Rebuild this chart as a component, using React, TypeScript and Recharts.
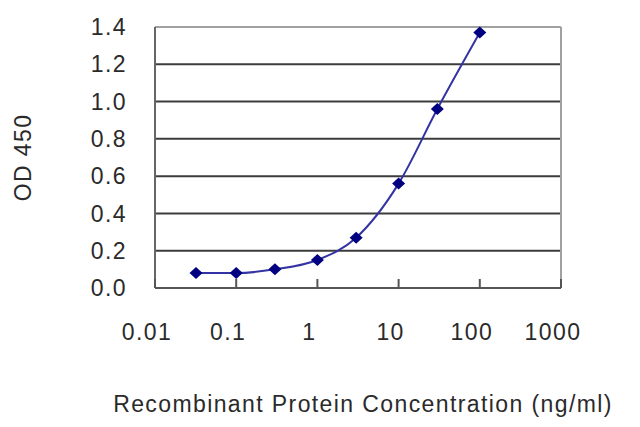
import { LineChart, Line, XAxis, YAxis, ReferenceLine } from "recharts";

// Concentration (ng/ml) and measured OD 450
const concentrations = [0.032, 0.1, 0.3, 1, 3, 10, 30, 100];
const odValues = [0.08, 0.08, 0.1, 0.15, 0.27, 0.56, 0.96, 1.37];

const xTicks = [0.01, 0.1, 1, 10, 100, 1000];
const yTicks = [0, 0.2, 0.4, 0.6, 0.8, 1.0, 1.2, 1.4];
const gridValues = [0.2, 0.4, 0.6, 0.8, 1.0, 1.2];

const data = concentrations.map((conc, i) => ({ conc, od: odValues[i] }));

const FONT = '"Liberation Sans", Arial, sans-serif';
const TEXT = "#2a2a2a";

function XTick(props: any) {
  const { x, y, payload } = props;
  return (
    <g>
      <line x1={x} y1={y} x2={x} y2={y - 9} stroke="#555" strokeWidth={2} />
      <text x={x - 8} y={y + 52} textAnchor="middle" fill={TEXT} fontSize={23}>
        {payload.value}
      </text>
    </g>
  );
}

function Diamond(props: any) {
  const { cx, cy, index } = props;
  if (cx == null || cy == null) return null;
  return (
    <polygon
      key={`d-${index}`}
      points={`${cx},${cy - 6} ${cx + 6.5},${cy} ${cx},${cy + 6} ${cx - 6.5},${cy}`}
      fill="#000080"
    />
  );
}

export default function App() {
  return (
    <div
      style={{
        position: "absolute",
        left: 0,
        top: 0,
        width: 640,
        height: 427,
        background: "#fff",
        fontFamily: FONT,
        letterSpacing: "1.4px",
      }}
    >
      <LineChart
        width={640}
        height={427}
        data={data}
        margin={{ top: 27, right: 79, bottom: 0, left: 0 }}
      >
        <XAxis
          dataKey="conc"
          type="number"
          scale="log"
          domain={[0.01, 1000]}
          ticks={xTicks}
          allowDataOverflow
          height={139}
          tickSize={0}
          tickMargin={0}
          tickLine={false}
          axisLine={{ stroke: "#555", strokeWidth: 2 }}
          tick={<XTick />}
          interval={0}
          label={{
            position: "insideBottom",
            content: (p: any) => {
              const vb = p.viewBox;
              return (
                <text
                  x={vb.x + vb.width / 2 + 5}
                  y={vb.y + vb.height - 15}
                  textAnchor="middle"
                  fill={TEXT}
                  fontSize={23}
                >
                  Recombinant Protein Concentration (ng/ml)
                </text>
              );
            },
          }}
        />
        <YAxis
          type="number"
          domain={[0, 1.4]}
          ticks={yTicks}
          width={155}
          tickSize={0}
          tickMargin={28}
          tickLine={false}
          interval={0}
          axisLine={{ stroke: "#666", strokeWidth: 2 }}
          tick={{ fill: TEXT, fontSize: 23 }}
          tickFormatter={(v: number) => v.toFixed(1)}
          label={{
            position: "insideLeft",
            content: (p: any) => {
              const vb = p.viewBox;
              const cx = vb.x + 23;
              const cy = vb.y + vb.height / 2;
              return (
                <text
                  x={cx}
                  y={cy}
                  transform={`rotate(-90, ${cx}, ${cy})`}
                  textAnchor="middle"
                  dominantBaseline="central"
                  fill={TEXT}
                  fontSize={23}
                >
                  OD 450
                </text>
              );
            },
          }}
        />
        {gridValues.map((v) => (
          <ReferenceLine key={v} y={v} stroke="#3c3c3c" strokeWidth={2} />
        ))}
        <ReferenceLine y={1.4} stroke="#a0a0a0" strokeWidth={2} />
        <ReferenceLine x={1000} stroke="#a0a0a0" strokeWidth={2} />
        <Line
          type="monotone"
          dataKey="od"
          stroke="#3333a3"
          strokeWidth={2}
          dot={<Diamond />}
          activeDot={false}
          isAnimationActive={false}
        />
      </LineChart>
    </div>
  );
}
